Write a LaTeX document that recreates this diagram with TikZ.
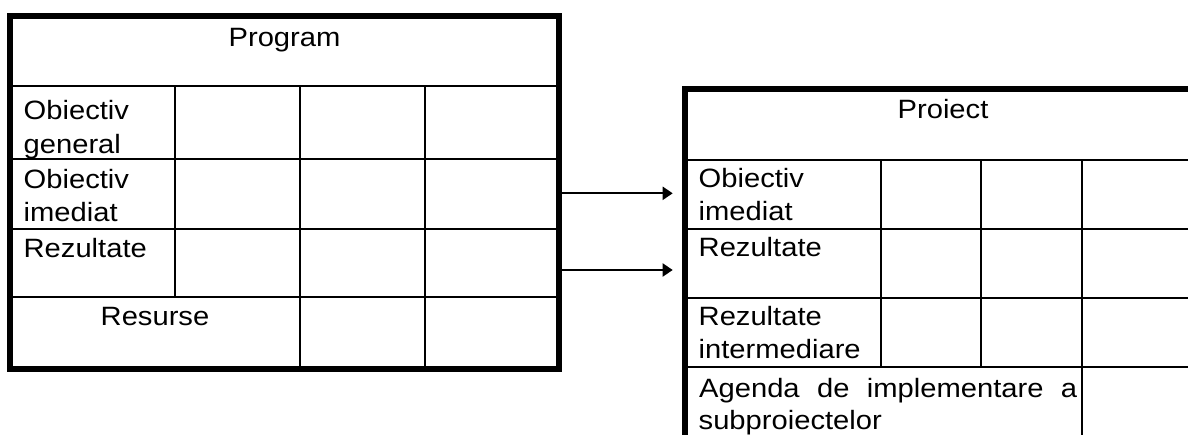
\documentclass[tikz,border=0pt]{standalone}
\usepackage{fontspec}
\setmainfont{Liberation Sans}[FakeStretch=1.1]
\usetikzlibrary{arrows.meta}
\begin{document}
\begin{tikzpicture}[x=1pt,y=-1pt,
  frame/.style={line width=6pt, line join=miter},
  gridline/.style={line width=2pt},
  lbl/.style={inner sep=0pt, anchor=base west, font=\fontsize{26.5}{33}\selectfont},
  ttl/.style={inner sep=0pt, anchor=base, font=\fontsize{26.5}{33}\selectfont},
  arr/.style={line width=2pt, -{Triangle[length=10pt,width=13pt]}}]
\useasboundingbox (0,0) rectangle (1188,434);
\begin{scope}
\clip (0,0) rectangle (1188,434);
% ---------- Program table ----------
\draw[gridline] (10,86) -- (559,86);
\draw[gridline] (10,159.3) -- (559,159.3);
\draw[gridline] (10,228.7) -- (559,228.7);
\draw[gridline] (10,297.3) -- (559,297.3);
\draw[gridline] (174.5,86) -- (174.5,297.3);
\draw[gridline] (300,86) -- (300,369);
\draw[gridline] (425.3,86) -- (425.3,369);
\draw[frame] (10.3,15.5) rectangle (559.3,369.3);
\node[ttl] (prog) at (284.5,46) {Program};
\node[lbl] (og1) at (23.5,119.5) {Obiectiv};
\node[lbl] (og2) at (23.5,153) {general};
\node[lbl] (oi1) at (23.5,188) {Obiectiv};
\node[lbl] (oi2) at (23.5,221) {imediat};
\node[lbl] (rz) at (23.5,257) {Rezultate};
\node[ttl] (res) at (155,325) {Resurse};
% ---------- Proiect table ----------
\draw[gridline] (685,159.5) -- (1210,159.5);
\draw[gridline] (685,229) -- (1210,229);
\draw[gridline] (685,298) -- (1210,298);
\draw[gridline] (685,367) -- (1210,367);
\draw[gridline] (880.5,159.5) -- (880.5,367);
\draw[gridline] (981,159.5) -- (981,367);
\draw[gridline] (1082,159.5) -- (1082,460);
\draw[frame] (685,88.7) rectangle (1201,480);
\node[ttl] (proi) at (943,118.3) {Proiect};
\node[lbl] (pi1) at (698.5,187.3) {Obiectiv};
\node[lbl] (pi2) at (698.5,220.7) {imediat};
\node[lbl] (pr) at (698.5,256) {Rezultate};
\node[lbl] (pri1) at (698.5,325) {Rezultate};
\node[lbl] (pri2) at (698.5,358.3) {intermediare};
\node[lbl] (ag1) at (699,397) {\hbox to 378pt{Agenda\hfill de\hfill implementare\hfill a}};
\node[lbl] (ag2) at (698.5,429.5) {subproiectelor};
\end{scope}
% ---------- arrows ----------
\coordinate (s1) at (562.3,193.3);
\coordinate (e1) at (672.7,193.3);
\coordinate (s2) at (562.3,270);
\coordinate (e2) at (672.7,270);
\draw[arr] (s1) -- (e1);
\draw[arr] (s2) -- (e2);
\end{tikzpicture}
\end{document}
